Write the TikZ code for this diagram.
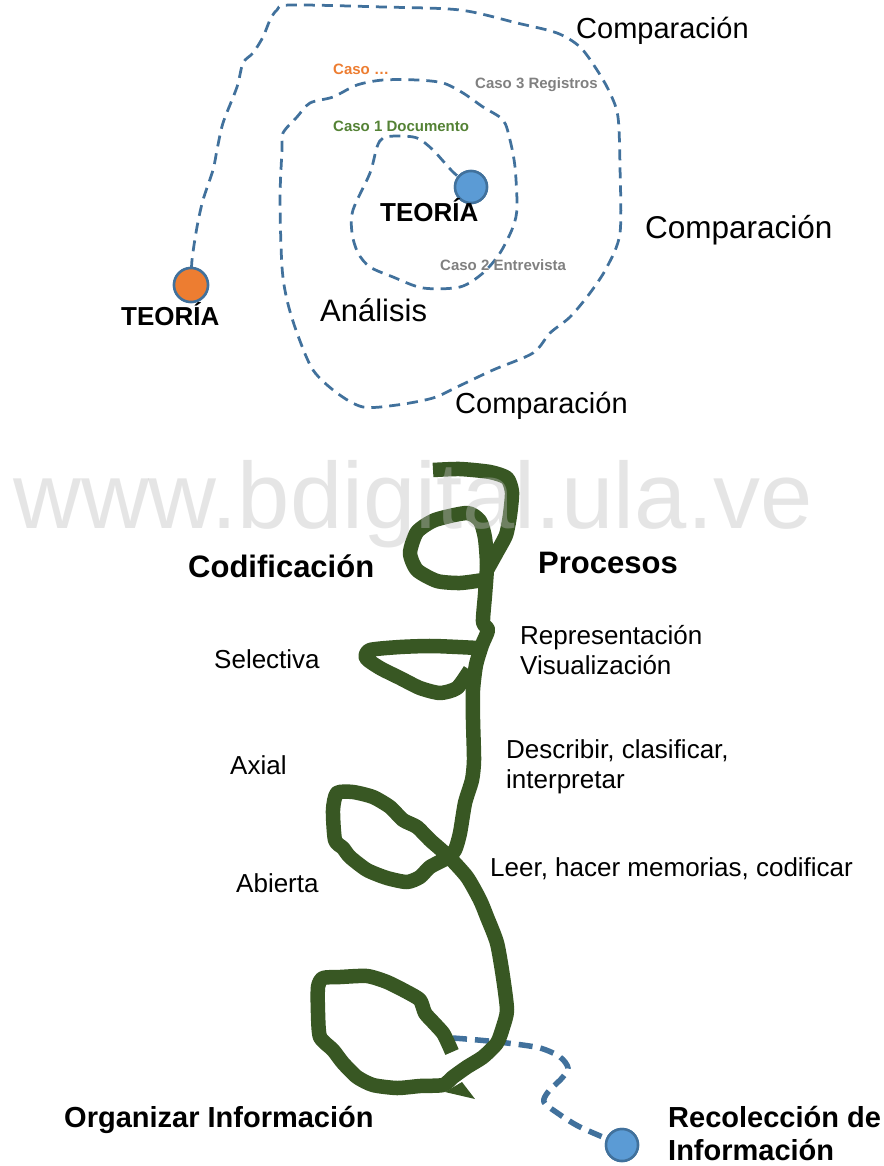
\documentclass[tikz,border=0pt]{standalone}
\usepackage{fontspec}
\setmainfont{Liberation Sans}
\definecolor{lineblue}{HTML}{41719C}
\definecolor{dotblue}{HTML}{5B9BD5}
\definecolor{dotorange}{HTML}{ED7D31}
\definecolor{vinegreen}{HTML}{385723}
\definecolor{casogreen}{HTML}{548235}
\definecolor{casogray}{HTML}{808080}
\definecolor{wmgray}{gray}{0.75}
\newcommand\myfs[1]{\fontsize{#1}{#1}\selectfont}
\tikzset{
  spiral/.style={draw=lineblue, line width=2.75pt, dash pattern=on 11pt off 7pt},
  collect/.style={draw=lineblue, line width=5.5pt, dash pattern=on 14pt off 8pt},
  vine/.style={draw=vinegreen, line width=14.5pt, line join=round},
  dot/.style={circle, draw=lineblue, line width=2.5pt, minimum size=32pt, inner sep=0pt},
  lbl/.style={anchor=base west, inner sep=0pt, text=black},
  big/.style={lbl, font=\myfs{26}},
  bigb/.style={lbl, font=\bfseries\myfs{29}},
  caso/.style={lbl, font=\bfseries\myfs{15}},
}
\begin{document}
\begin{tikzpicture}[x=1pt, y=-1pt]
\useasboundingbox (0,0) rectangle (883,1166);

% ---- upper spiral ----
\node[dot, fill=dotblue] (cB) at (471,187) {};
\node[dot, fill=dotorange, minimum size=34pt] (cO) at (191,285) {};
\draw[spiral] plot[smooth, tension=0.5] coordinates {
 (cB.center) (453,172) (433,150) (417,138) (397,136) (383,138) (377,147) (370,173)
 (353,210) (352,233) (358,253) (370,267) (393,277) (423,288) (460,287) (483,273)
 (500,253) (513,227) (517,207) (515,167) (510,140) (503,120) (483,107) (463,93)
 (443,83) (417,80) (383,80) (357,85) (333,97) (310,103) (297,117) (283,133)
 (282,150) (280,200) (282,267) (287,300) (297,333) (313,370) (337,393) (363,407)
 (397,405) (433,398) (457,387) (493,370) (533,353) (550,333) (570,317) (590,293)
 (607,267) (620,233) (620,167) (618,117) (610,93) (597,70) (580,47) (557,33)
 (517,23) (460,10) (383,7) (290,5) (277,10) (270,20) (263,37) (253,53) (243,63)
 (237,87) (223,123) (217,150) (213,170) (203,200) (197,227) (192,260) (cO.center)};
\node[dot, fill=dotblue] at (cB) {};
\node[dot, fill=dotorange, minimum size=34pt] at (cO) {};

\node[lbl, font=\myfs{29}] (comp1) at (576,39) {Comparación};
\node[lbl, font=\myfs{31.5}] (comp2) at (645,239) {Comparación};
\node[lbl, font=\myfs{29}] (comp3) at (455,413) {Comparación};
\node[caso, text=dotorange] (caso0) at (333,75) {Caso …};
\node[caso, text=casogray] (caso3) at (475,89) {Caso 3 Registros};
\node[caso, text=casogreen] (caso1) at (333,132) {Caso 1 Documento};
\node[caso, text=casogray] (caso2) at (440,270) {Caso 2 Entrevista};
\node[lbl, font=\bfseries\myfs{26}] (teo1) at (380,222) {TEORÍA};
\node[lbl, font=\bfseries\myfs{26}] (teo2) at (121,325) {TEORÍA};
\node[lbl, font=\myfs{31}] (anal) at (320,321) {Análisis};

% ---- lower part ----
\node[dot, fill=dotblue] (cR) at (622,1145) {};
\draw[collect] plot[smooth, tension=0.5] coordinates {
 (453,1038) (478,1040) (507,1043) (540,1048) (560,1057) (568,1068) (562,1078)
 (548,1092) (544,1102) (556,1112) (580,1127) (cR.center)};
\node[dot, fill=dotblue] at (cR) {};

\draw[vine] plot[smooth, tension=0.4] coordinates {
 (433,470) (460,469) (490,472) (507,478) (512,492) (510,515) (506,535) (497,552) (487,570)};
\draw[vine] plot[smooth, tension=0.4] coordinates {
 (483,580) (460,583) (437,581) (417,570) (410,553) (417,532) (435,520) (467,513)
 (480,521) (485,538) (487,565) (485,595) (483,622) (488,630) (482,645) (476,665)
 (473,690) (473,720) (474,760) (472,780) (465,803) (460,833) (455,850) (447,858)
 (430,867) (420,877) (407,882) (387,878) (367,870) (350,857) (343,848) (335,840)
 (333,810) (337,793) (353,792) (373,797) (390,807) (403,820) (417,827) (430,840)
 (448,856) (467,877) (480,900) (487,917) (497,943) (503,977) (507,1010) (503,1027)
 (497,1043) (483,1057) (467,1067) (453,1077) (443,1085) (420,1086) (397,1088)
 (373,1085) (357,1077) (343,1063) (333,1050) (320,1037) (318,1013) (318,987)
 (323,978) (340,977) (367,976) (387,982) (407,992) (420,1000) (425,1013) (433,1022)
 (443,1033) (448,1043) (452,1052)};
\draw[vine] plot[smooth, tension=0.4] coordinates {
 (478,648) (433,646) (400,647) (370,650) (366,658) (380,668) (400,678) (420,688)
 (440,693) (457,688) (470,670)};
\fill[vinegreen] (445,1092) -- (475,1099) -- (462,1082) -- cycle;

\node[lbl, font=\bfseries\myfs{31}] (codif) at (188,577) {Codificación};
\node[lbl, font=\bfseries\myfs{31}] (proc) at (538,573) {Procesos};
\node[big] (repr) at (520,644) {Representación};
\node[big] (visu) at (520,674) {Visualización};
\node[big] (sel) at (214,668) {Selectiva};
\node[big] (axi) at (230,774) {Axial};
\node[big] (desc) at (506,758) {Describir, clasificar,};
\node[big] (inter) at (506,788) {interpretar};
\node[big] (abi) at (236,892) {Abierta};
\node[big] (leer) at (490,876) {Leer, hacer memorias, codificar};
\node[bigb] (org) at (64,1127) {Organizar Información};
\node[bigb] (rec1) at (668,1127) {Recolección de};
\node[bigb] (rec2) at (668,1160) {Información};

% ---- watermark ----
\node[lbl, text=wmgray, text opacity=0.4, font=\myfs{94}] (wm) at (13,528) {www.bdigital.ula.ve};
\end{tikzpicture}
\end{document}
